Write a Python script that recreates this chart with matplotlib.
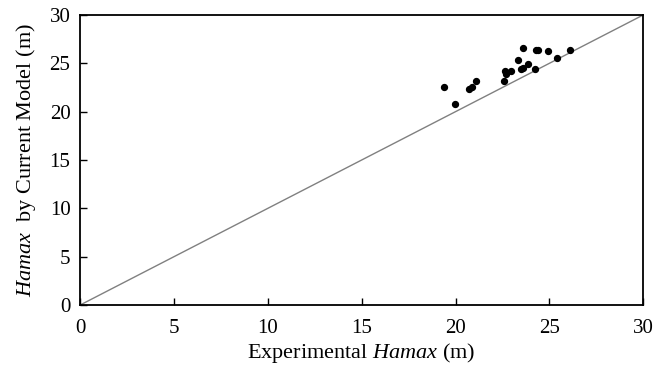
import numpy as np
import matplotlib
matplotlib.use("Agg")
import matplotlib.pyplot as plt

# experimental vs model Hamax (m)
exp_hamax = [19.41, 19.96, 20.71, 20.89, 21.10, 22.56, 22.61, 22.70, 22.95, 23.32,
             23.47, 23.59, 23.59, 23.84, 24.21, 24.27, 24.39, 24.92, 25.40, 26.12]
model_hamax = [22.50, 20.75, 22.37, 22.58, 23.13, 23.20, 24.20, 23.90, 24.20, 25.30,
               24.40, 24.50, 26.60, 24.90, 24.45, 26.37, 26.34, 26.27, 25.50, 26.40]
ticks = [0, 5, 10, 15, 20, 25, 30]

plt.rcParams["font.family"] = "Liberation Serif"
plt.rcParams["mathtext.fontset"] = "custom"
plt.rcParams["mathtext.rm"] = "Liberation Serif"
plt.rcParams["mathtext.it"] = "Liberation Serif:italic"

fig = plt.figure(figsize=(6.57, 3.69), dpi=100)
ax = fig.add_axes([0.1220, 0.1734, 0.857, 0.786])

ax.plot([0, 30], [0, 30], color="#808080", lw=1.0, zorder=1)
ax.scatter(exp_hamax, model_hamax, s=18, color="black", zorder=2)

ax.set_xlim(0, 30)
ax.set_ylim(0, 30)
ax.set_xticks(ticks)
ax.set_yticks(ticks)
ax.tick_params(direction="in", length=5, width=1, labelsize=15,
               top=False, right=False)
ax.tick_params(axis="x", pad=10)
ax.tick_params(axis="y", pad=7)
for s in ax.spines.values():
    s.set_linewidth(1.3)

ax.set_xlabel("Experimental $Hamax$ (m)", fontsize=16, labelpad=2)
ax.set_ylabel("$Hamax$  by Current Model (m)", fontsize=16, labelpad=8)

fig.savefig("out.png", dpi=100)
